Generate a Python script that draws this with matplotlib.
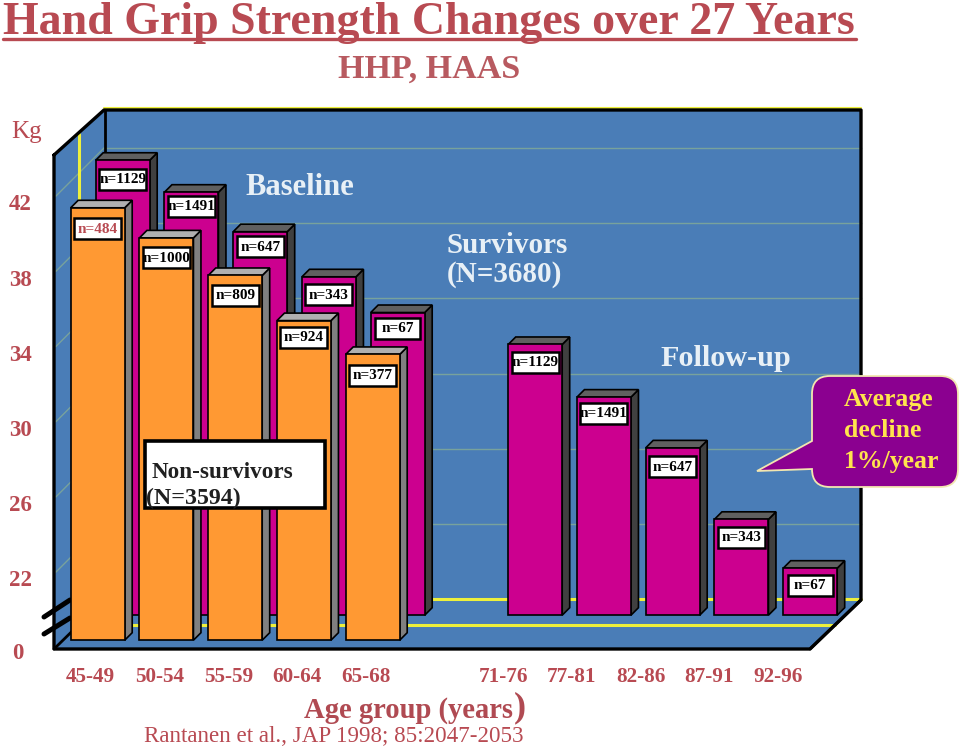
import matplotlib
matplotlib.use("Agg")
import matplotlib.pyplot as plt
from matplotlib.patches import Polygon, Rectangle, PathPatch
from matplotlib.path import Path
from matplotlib.transforms import Affine2D

plt.rcParams['font.family'] = ['Liberation Serif', 'DejaVu Serif']

# ---- data ----
baseline_ages = ["45-49", "50-54", "55-59", "60-64", "65-68"]
followup_ages = ["71-76", "77-81", "82-86", "87-91", "92-96"]
nonsurvivor_kg = [41.0, 39.4, 37.4, 35.0, 33.2]
survivor_kg = [42.2, 40.5, 38.4, 36.0, 34.1]
followup_kg = [32.4, 29.6, 26.9, 23.1, 20.5]
nonsurvivor_n = ["n=484", "n=1000", "n=809", "n=924", "n=377"]
survivor_n = ["n=1129", "n=1491", "n=647", "n=343", "n=67"]
followup_n = ["n=1129", "n=1491", "n=647", "n=343", "n=67"]
y_ticks = [42, 38, 34, 30, 26, 22]
grid_kg = [42, 38, 34, 30, 26, 22]
break_kg = 18   # position of the broken axis on the kg scale

# ---- label box drop below each bar top (style, in pixels) ----
nonsurvivor_drop = [21, 20, 20, 17, 21]
survivor_drop = [19, 14, 15, 18, 16]
followup_drop = [18, 16, 19, 18, 17]

# ---- palette ----
RED = "#b84a52"
WALL = "#4a7db7"
GRID = "#78a29c"
YEL = "#eef03c"
MAG, MAG_SIDE, MAG_TOP = "#cc008f", "#404040", "#606060"
ORA, ORA_SIDE, ORA_TOP = "#ff9933", "#808080", "#b0b0b0"
PALE = "#e8f0f6"

W, H = 959, 747
PX_X, PX_Y = 68.75, 18.8          # pixels per category, pixels per kg
X0, Y22 = 70.7, 565.0             # pixel origin of the front bar plane

fig = plt.figure(figsize=(W / 100, H / 100), dpi=100)
ax = fig.add_axes([0, 0, 1, 1])
ax.set_xlim(-X0 / PX_X, (W - X0) / PX_X)
ax.set_ylim(22 - (H - Y22) / PX_Y, 22 + Y22 / PX_Y)
ax.axis("off")

px = Affine2D().scale(1, -1).translate(0, H)   # decoration in image pixels


def dx(p):
    return p / PX_X


def deco(patch, z):
    patch.set_transform(px)
    patch.set_zorder(z)
    ax.add_patch(patch)


def pline(xs, ys, color, lw, z=2):
    ax.plot(xs, ys, color=color, lw=lw, transform=px, zorder=z, solid_capstyle="round")


def ptext(x, y, s, **kw):
    kw.setdefault("color", RED)
    kw.setdefault("fontweight", "bold")
    kw.setdefault("va", "baseline")
    ax.text(x, y, s, transform=px, zorder=20, **kw)


# walls and floor
deco(Polygon([(104, 110), (861, 110), (861, 600), (104, 600)], fc=WALL, ec="none"), 1)
deco(Polygon([(54, 155), (104, 110), (104, 600), (54, 649)], fc=WALL, ec="none"), 1)
deco(Polygon([(104, 600), (861, 600), (810, 649), (54, 649)], fc=WALL, ec="none"), 1)

# gridlines follow the kg scale, on the back plane (41 px behind the front bars)
for v in grid_kg:
    back = v + 41 / PX_Y
    ax.plot([dx(104 - X0), dx(861 - X0)], [back, back], color=GRID, lw=1.0, zorder=2)
    ax.plot([dx(56 - X0), dx(104 - X0)], [v - 7 / PX_Y, back], color=GRID, lw=1.0, zorder=2)

# yellow break lines
pline([104, 861], [108, 108], YEL, 1.5)
pline([104, 861], [599, 599], YEL, 2.2)
pline([79, 835], [625, 625], YEL, 2.2)
pline([79, 79], [134, 625], YEL, 2.2)

# frame
pline([54, 104, 861, 861, 810, 54, 54], [155, 110, 110, 600, 649, 649, 155], "black", 2.4, 3)
pline([105, 105], [110, 600], "black", 2.0, 2.5)
pline([54, 104], [649, 600], "black", 2.0, 2.5)
pline([810, 861], [649, 600], "black", 2.0, 2.5)

# axis-break ticks
for xs, ys in [([44, 70], [617, 600]), ([44, 70], [634, 618])]:
    pline(xs, ys, "black", 3.6, 3)


def bar3d(i, value, shift, face, side, top, label, drop, z, label_color="black"):
    """Draw one pseudo-3D bar; `shift` is the bar's pixel shift behind the front plane."""
    width, dpt = 54, 7.5
    x0 = i + dx(shift)
    x1 = x0 + dx(width)
    y0 = break_kg + shift / PX_Y
    y1 = value + shift / PX_Y
    ox, oy = dx(dpt), dpt / PX_Y
    kw = dict(ec="black", lw=1.2, zorder=z, joinstyle="miter")
    ax.add_patch(Polygon([(x1, y0), (x1 + ox, y0 + oy), (x1 + ox, y1 + oy), (x1, y1)], fc=side, **kw))
    ax.add_patch(Polygon([(x0, y1), (x1, y1), (x1 + ox, y1 + oy), (x0 + ox, y1 + oy)], fc=top, **kw))
    ax.add_patch(Rectangle((x0, y0), x1 - x0, y1 - y0, fc=face, **kw))
    # n= label box
    bw, bh = dx(45 if len(label) == 4 else 47), 21 / PX_Y
    cx = (x0 + x1) / 2
    cy = y1 - drop / PX_Y
    ax.add_patch(Rectangle((cx - bw / 2, cy - bh / 2), bw, bh, fc="white", ec="black", lw=1.8,
                           zorder=z + 0.1))
    ax.text(cx, cy - 0.02, label, ha="center", va="center", fontsize=11,
            fontweight="bold", color=label_color, zorder=z + 0.2)


for i, (v, n, d) in enumerate(zip(survivor_kg, survivor_n, survivor_drop)):
    bar3d(i, v, 25, MAG, MAG_SIDE, MAG_TOP, n, d, 5 + i * 0.5)
for i, (v, n, d) in enumerate(zip(followup_kg, followup_n, followup_drop)):
    bar3d(i + 6, v, 25, MAG, MAG_SIDE, MAG_TOP, n, d, 5 + i * 0.5)
for i, (v, n, d) in enumerate(zip(nonsurvivor_kg, nonsurvivor_n, nonsurvivor_drop)):
    bar3d(i, v, 0, ORA, ORA_SIDE, ORA_TOP, n, d, 9 + i * 0.5,
          label_color=RED if i == 0 else "black")

# value axis labels
for v in y_ticks:
    ax.text(dx(9 - X0), v - 16 / PX_Y, str(v), color=RED, fontsize=16.5, fontweight="bold",
            va="center", ha="left", zorder=20)
ax.text(dx(12 - X0), break_kg - 13 / PX_Y, "0", color=RED, fontsize=16.5, fontweight="bold",
        va="center", ha="left", zorder=20)

# category labels
cat_y = 22 - (677 - Y22) / PX_Y
for i, s in enumerate(baseline_ages):
    ax.text(i + dx(20), cat_y, s, color=RED, fontsize=15.2, fontweight="bold",
            ha="center", va="center", zorder=20)
for i, s in enumerate(followup_ages):
    ax.text(i + 6 + dx(20), cat_y, s, color=RED, fontsize=15.2, fontweight="bold",
            ha="center", va="center", zorder=20)

# titles
ptext(3, 34, "Hand Grip Strength Changes over 27 Years", fontsize=33)
pline([3, 856], [39, 39], RED, 2.4, 20)
ptext(429, 78, "HHP, HAAS", fontsize=24.5, ha="center", color="#b85a60")
ptext(11, 138, "Kg", fontsize=18, fontweight="normal")

# annotations on the chart
ptext(245, 195, "Baseline", fontsize=22, color=PALE)
ptext(447, 253, "Survivors", fontsize=21, color=PALE)
ptext(447, 282, "(N=3680)", fontsize=21, color=PALE)
ptext(660, 366, "Follow-up", fontsize=21.7, color=PALE)

deco(Rectangle((145, 441), 180, 67, fc="white", ec="black", lw=2.6), 15)
ptext(152, 478, "Non-survivors", fontsize=16.7, color="#202020")
ptext(146, 504, "(N=3594)", fontsize=17.2, color="#202020")

# callout
r = 18
L, R_, T, B = 812, 958, 376, 487
verts = [(L + r, T), (R_ - r, T), (R_, T), (R_, T + r), (R_, B - r), (R_, B), (R_ - r, B),
         (L + r, B), (L, B), (L, B - r), (L, 469), (757, 471), (L, 441), (L, T + r), (L, T),
         (L + r, T), (L + r, T)]
codes = [Path.MOVETO, Path.LINETO, Path.CURVE3, Path.CURVE3, Path.LINETO, Path.CURVE3, Path.CURVE3,
         Path.LINETO, Path.CURVE3, Path.CURVE3, Path.LINETO, Path.LINETO, Path.LINETO, Path.LINETO,
         Path.CURVE3, Path.CURVE3, Path.CLOSEPOLY]
deco(PathPatch(Path(verts, codes), fc="#8b0090", ec="#f2e6b0", lw=1.3), 18)
for y, s in [(406, "Average"), (437, "decline"), (468, "1%/year")]:
    ptext(844, y, s, fontsize=18.5, color="#ffe44d")

# footer
ptext(304, 718, "Age group (years", fontsize=20.6, color="#b04a52")
ptext(514, 716, ")", fontsize=26, color="#b04a52")
ptext(144, 742, "Rantanen et al., JAP 1998; 85:2047-2053", fontsize=16.6, fontweight="normal")

fig.savefig("out.png", dpi=100)
